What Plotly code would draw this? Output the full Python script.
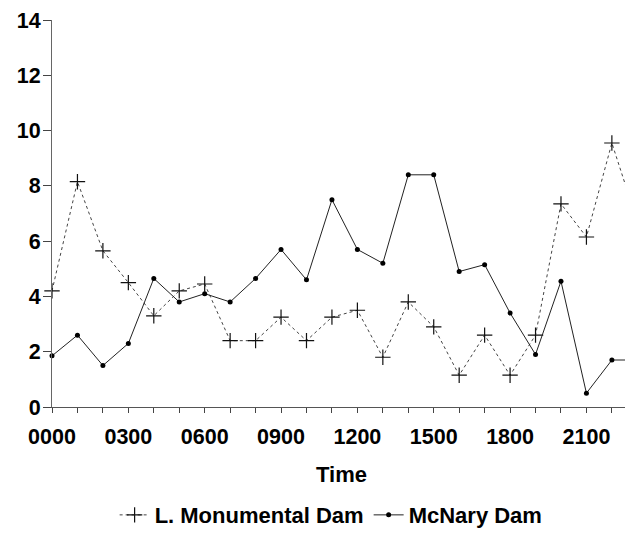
import plotly.graph_objects as go

hours = list(range(24))
hour_labels = ["0000", "", "", "0300", "", "", "0600", "", "", "0900", "", "",
               "1200", "", "", "1500", "", "", "1800", "", "", "2100", "", ""]
lower_monumental = [4.2, 8.15, 5.65, 4.5, 3.3, 4.2, 4.45, 2.4, 2.4, 3.25, 2.4, 3.25,
                    3.5, 1.8, 3.8, 2.9, 1.15, 2.6, 1.15, 2.6, 7.35, 6.15, 9.55, 6.7]
mcnary = [1.85, 2.6, 1.5, 2.3, 4.65, 3.8, 4.1, 3.8, 4.65, 5.7, 4.6, 7.5,
          5.7, 5.2, 8.4, 8.4, 4.9, 5.15, 3.4, 1.9, 4.55, 0.5, 1.7, 1.7]
y_ticks = [0, 2, 4, 6, 8, 10, 12, 14]

FONT = "Liberation Sans, Arial, sans-serif"

fig = go.Figure()
fig.add_trace(go.Scatter(
    x=hours, y=lower_monumental, name="L. Monumental Dam", mode="lines+markers",
    line=dict(color="#444", width=1, dash="3px,3px"),
    marker=dict(symbol="cross-thin", size=11, line=dict(color="#111", width=1.2)),
    cliponaxis=False,
))
fig.add_trace(go.Scatter(
    x=hours, y=mcnary, name="McNary Dam", mode="lines+markers",
    line=dict(color="#222", width=1),
    marker=dict(symbol="circle", size=5, color="#000"),
    cliponaxis=False,
))

# the page body adds an 8px offset, so the figure is sized to end at the window edge
fig.update_layout(
    width=625, height=526,
    margin=dict(l=44, r=0, t=12, b=127, autoexpand=False),
    paper_bgcolor="white", plot_bgcolor="white",
    showlegend=True,
    legend=dict(orientation="h", xref="container", x=0.517, xanchor="center",
                yref="container", y=0.036, yanchor="middle",
                font=dict(family=FONT, size=22, color="#000", weight="bold"),
                itemwidth=30, bgcolor="rgba(0,0,0,0)"),
    annotations=[dict(text="Time", xref="paper", yref="paper", x=0.498, y=-0.175,
                      xanchor="center", yanchor="middle", showarrow=False,
                      font=dict(family=FONT, size=22, color="#000", weight="bold"))],
)
fig.update_xaxes(
    range=[0, 22.83], tickmode="array", tickvals=hours, ticktext=hour_labels,
    ticks="outside", ticklen=5, tickcolor="#444", tickwidth=1,
    showline=True, linecolor="#555", linewidth=1, showgrid=False, zeroline=False,
    tickfont=dict(family=FONT, size=21.5, color="#000", weight="bold"),
    ticklabelstandoff=5, automargin=False, ticklabeloverflow="allow",
)
fig.update_yaxes(
    range=[0, 14], tickmode="array", tickvals=y_ticks,
    ticks="outside", ticklen=8, tickcolor="#444", tickwidth=1,
    showline=True, linecolor="#666", linewidth=1, showgrid=False, zeroline=False,
    tickfont=dict(family=FONT, size=21.5, color="#000", weight="bold"),
    ticklabelstandoff=-2, automargin=False, ticklabeloverflow="allow",
)

fig.write_html("out.html")
